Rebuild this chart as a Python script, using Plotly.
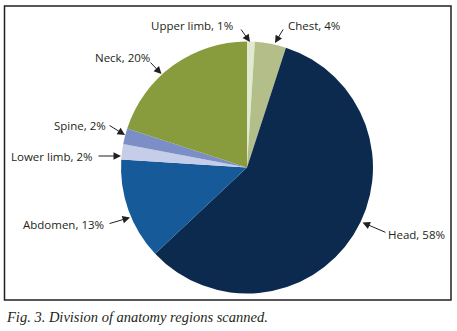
import plotly.graph_objects as go

# Data
regions = ["Upper limb", "Chest", "Head", "Abdomen", "Lower limb", "Spine", "Neck"]
percent = [1, 4, 58, 13, 2, 2, 20]
colors = ["#e3e8d0", "#b3be88", "#0b2a4e", "#175a99", "#c6cde8", "#7b8ec6", "#889c3e"]

W, H = 457, 331

def px(x):
    return x / W

def py(y):
    return 1 - y / H

# pie geometry (pixels)
cx, cy, r = 247, 167.5, 126

fig = go.Figure(go.Pie(
    labels=regions,
    values=percent,
    sort=False,
    direction="clockwise",
    rotation=0,
    marker=dict(colors=colors, line=dict(width=0)),
    textinfo="none",
    hoverinfo="label+percent",
    showlegend=False,
    domain=dict(x=[px(cx - r), px(cx + r)], y=[py(cy + r), py(cy - r)]),
))

# label layout: text center, arrow tail, arrow tip (pixels)
label_layout = {
    "Upper limb": ((192, 25), (240, 28), (250, 42)),
    "Chest": ((314, 25), (284, 28), (275, 43)),
    "Neck": ((122, 57), (149, 61), (161.5, 74)),
    "Spine": ((80, 125), (108, 124.5), (125, 135)),
    "Lower limb": ((52, 156), (97, 156), (121, 156)),
    "Abdomen": ((63, 224.5), (108, 224), (130, 217.5)),
    "Head": ((416, 234), (387, 233), (362.5, 222.5)),
}

font_color = "#231f20"
annotations = []
for name, p in zip(regions, percent):
    (tx, ty), (ax, ay), (hx, hy) = label_layout[name]
    annotations.append(dict(
        x=px(tx), y=py(ty), xref="paper", yref="paper",
        text=f"{name}, {p}%", showarrow=False,
        xanchor="center", yanchor="middle",
        font=dict(family="Open Sans", size=11.5, color=font_color),
    ))
    annotations.append(dict(
        x=px(hx), y=py(hy), xref="paper", yref="paper",
        text="", showarrow=True,
        ax=ax - hx, ay=ay - hy,
        arrowhead=2, arrowsize=1.5, arrowwidth=1, arrowcolor=font_color,
        standoff=0, startstandoff=0,
    ))

annotations.append(dict(
    x=px(4), y=py(317), xref="paper", yref="paper",
    text="<i>Fig. 3. Division of anatomy regions scanned.</i>",
    showarrow=False, xanchor="left", yanchor="middle",
    font=dict(family="Liberation Serif", size=14.5, color=font_color),
))

fig.update_layout(
    width=W, height=H,
    margin=dict(l=0, r=0, t=0, b=0),
    paper_bgcolor="white",
    plot_bgcolor="white",
    annotations=annotations,
    shapes=[dict(
        type="rect", xref="paper", yref="paper",
        x0=px(4.5), x1=px(451), y0=py(300), y1=py(6),
        line=dict(color="#231f20", width=1.5),
    )],
)

fig.write_html(
    "out.html",
    config={"displayModeBar": False},
    post_script="document.body.style.margin='0';document.body.style.overflow='hidden';",
)
